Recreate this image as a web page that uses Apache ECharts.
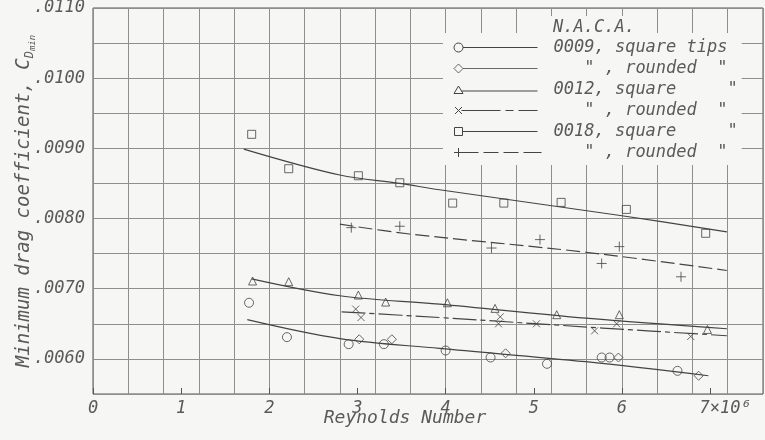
<!DOCTYPE html>
<html><head><meta charset="utf-8">
<script src="https://cdn.jsdelivr.net/npm/echarts@6/dist/echarts.min.js"></script>
<style>html,body{margin:0;padding:0;background:#f6f6f4}#c{width:765px;height:440px}</style>
</head><body><div id="c"></div>
<script>
// ---------- data (Reynolds number x10^6, minimum drag coefficient) ----------
const pts0009sq = [[1.77,0.00680],[2.20,0.00631],[2.90,0.00621],[3.30,0.00621],[4.00,0.00612],[4.51,0.00602],[5.15,0.00593],[5.77,0.00602],[5.86,0.00602],[6.63,0.00583]];
const pts0009rd = [[3.02,0.00628],[3.39,0.00628],[4.68,0.00608],[5.96,0.00602],[6.87,0.00576]];
const pts0012sq = [[1.81,0.00711],[2.22,0.00710],[3.01,0.00691],[3.32,0.00681],[4.02,0.00680],[4.56,0.00672],[5.26,0.00663],[5.97,0.00663],[6.97,0.00642]];
const pts0012rd = [[2.98,0.00671],[3.04,0.00659],[4.62,0.00660],[4.60,0.00650],[5.03,0.00650],[5.69,0.00640],[5.94,0.00650],[6.78,0.00632]];
const pts0018sq = [[1.80,0.00920],[2.22,0.00871],[3.01,0.00861],[3.48,0.00851],[4.08,0.00822],[4.66,0.00822],[5.31,0.00823],[6.05,0.00813],[6.95,0.00779]];
const pts0018rd = [[2.93,0.00787],[3.48,0.00789],[4.52,0.00758],[5.07,0.00770],[5.77,0.00736],[5.97,0.00760],[6.67,0.00717]];

// faired curves
const fit0009   = [[1.75,0.00656],[2.80,0.00629],[3.93,0.00615],[5.59,0.00596],[6.98,0.00576]];
const fit0012sq = [[1.80,0.00714],[2.80,0.00690],[3.93,0.00678],[5.59,0.00658],[7.19,0.00643]];
const fit0012rd = [[2.82,0.00667],[3.93,0.00659],[5.78,0.00644],[7.19,0.00633]];
const fit0018sq = [[1.71,0.00899],[2.80,0.00862],[3.48,0.00850],[3.93,0.00841],[6.00,0.00804],[7.19,0.00781]];
const fit0018rd = [[2.80,0.00792],[3.59,0.00778],[5.59,0.00752],[7.19,0.00726]];

// tick labels
const xTickValues = [0,1,2,3,4,5,6,7];
const xTickLabels = ['0','1','2','3','4','5','6','7×10⁶'];
const yTickValues = [0.0060,0.0070,0.0080,0.0090,0.0100,0.0110];
const yTickLabels = ['.0060','.0070','.0080','.0090','.0100','.0110'];

// legend
const seriesNames  = ['0009sq','0009rd','0012sq','0012rd','0018sq','0018rd'];
const legendLabels = ['0009, square tips','   " , rounded  "','0012, square     "','   " , rounded  "','0018, square     "','   " , rounded  "'];
const legendTitle = 'N.A.C.A.';

// ---------- styling ----------
const BG = '#f6f6f4', INK = '#444', TXT = '#5a5a5a', GRID = '#8e8e8e';
const FONT = '"DejaVu Sans Mono", monospace';
const B = 'M0,0 M95,10 ';
const legendIcons = [
  'path://' + B + 'M9.5,5 A4.5,4.5 0 1 1 0.5,5 A4.5,4.5 0 1 1 9.5,5 M9.5,5 L84,5',
  'path://' + B + 'M5,0.5 L9.5,5 L5,9.5 L0.5,5 Z M9.5,5 L84,5',
  'path://' + B + 'M5,1.5 L9.5,9 L0.5,9 Z M8,6.5 L84,6.5',
  'path://' + B + 'M1.5,1.5 L8.5,8.5 M8.5,1.5 L1.5,8.5 M8,5 L47,5 M52,5 L60,5 M65,5 L84,5',
  'path://' + B + 'M1,1 L9,1 L9,9 L1,9 Z M9,5 L84,5',
  'path://' + B + 'M5,0.5 L5,9.5 M0.5,5 L9.5,5 M9.5,5 L25,5 M30,5 L45,5 M50,5 L65,5 M70,5 L88,5'
];
const CROSS = 'path://M0,0 L10,10 M10,0 L0,10';
const PLUS = 'path://M5,0 L5,10 M0,5 L10,5';
const symStyle = {color: 'transparent', borderColor: INK, borderWidth: 1};

function scatter(name, data, symbol, size) {
  return {type: 'scatter', name, data, symbol, symbolSize: size, xAxisIndex: 1,
    itemStyle: symStyle, z: 4, emphasis: {disabled: true}};
}
function curve(name, data, type) {
  return {type: 'line', name, data, xAxisIndex: 1, symbol: 'none', showSymbol: false,
    smooth: 0.35, lineStyle: {color: INK, width: 1.2, type: type || 'solid'}, z: 3,
    emphasis: {disabled: true}};
}
const txt = (size) => ({fontFamily: FONT, fontStyle: 'italic', fontSize: size, color: TXT});

const chart = echarts.init(document.getElementById('c'), null, {renderer: 'canvas'});
chart.setOption({
  animation: false,
  backgroundColor: BG,
  title: {text: legendTitle, left: 545, top: 16, padding: [3, 8, 3, 8], backgroundColor: BG,
    textStyle: Object.assign(txt(17), {fontWeight: 'normal'})},
  grid: {left: 93, right: 2, top: 8, bottom: 46, containLabel: false, outerBoundsMode: 'none',
    show: true, borderColor: '#555', borderWidth: 1, backgroundColor: 'transparent'},
  legend: {
    orient: 'vertical', left: 443, top: 33, padding: [4, 4, 2, 10], backgroundColor: BG,
    itemWidth: 95, itemHeight: 10, itemGap: 0, selectedMode: false,
    data: seriesNames.map((n, i) => ({name: n, icon: legendIcons[i]})),
    formatter: (n) => legendLabels[seriesNames.indexOf(n)],
    textStyle: Object.assign(txt(17), {lineHeight: 21}),
    itemStyle: {color: 'transparent', borderColor: INK, borderWidth: 1}
  },
  xAxis: [
    {type: 'value', min: 0, max: 7.6, interval: 0.4,
      axisLine: {show: false}, axisTick: {show: false}, axisLabel: {show: false},
      splitLine: {show: true, lineStyle: {color: GRID, width: 1}}},
    {type: 'value', min: 0, max: 7.6, interval: 1, position: 'bottom',
      axisLine: {show: false}, splitLine: {show: false},
      axisTick: {show: true, inside: true, length: 6, lineStyle: {color: '#555'}},
      axisLabel: Object.assign(txt(17), {margin: 6, showMaxLabel: false,
        formatter: (v) => {
          const i = xTickValues.findIndex(t => Math.abs(t - v) < 1e-6);
          if (i < 0) return '';
          return i === xTickValues.length - 1 ? '{s|' + xTickLabels[i] + '}' : xTickLabels[i];
        },
        rich: {s: Object.assign(txt(17), {padding: [0, 0, 0, 30]})}}),
      name: 'Reynolds Number', nameLocation: 'middle', nameGap: 15, nameMoveOverlap: false,
      nameTextStyle: Object.assign(txt(18), {padding: [0, 46, 0, 0]})}
  ],
  yAxis: {type: 'value', min: 0.0055, max: 0.011, interval: 0.0005,
    axisLine: {show: false}, axisTick: {show: false},
    splitLine: {show: true, lineStyle: {color: GRID, width: 1}},
    axisLabel: Object.assign(txt(17), {margin: 8,
      formatter: (v) => {
        const i = yTickValues.findIndex(t => Math.abs(t - v) < 1e-9);
        return i < 0 ? '' : yTickLabels[i];
      }}),
    name: '{n|Minimum drag coefficient, C}{d|D}{m|min}', nameLocation: 'middle', nameGap: 56,
    nameMoveOverlap: false,
    nameTextStyle: {rich: {
      n: txt(19),
      d: Object.assign(txt(12), {padding: [10, 0, 0, 0]}),
      m: Object.assign(txt(9), {padding: [16, 0, 0, 0]})
    }}
  },
  series: [
    curve('0009sq', fit0009),
    curve('0012sq', fit0012sq),
    curve('0012rd', fit0012rd, [24, 4, 5, 4]),
    curve('0018sq', fit0018sq),
    curve('0018rd', fit0018rd, [14, 5]),
    scatter('0009sq', pts0009sq, 'circle', 9),
    scatter('0009rd', pts0009rd, 'diamond', 9),
    scatter('0012sq', pts0012sq, 'triangle', 8),
    scatter('0012rd', pts0012rd, CROSS, 7),
    scatter('0018sq', pts0018sq, 'rect', 8),
    scatter('0018rd', pts0018rd, PLUS, 10)
  ]
});
</script></body></html>
